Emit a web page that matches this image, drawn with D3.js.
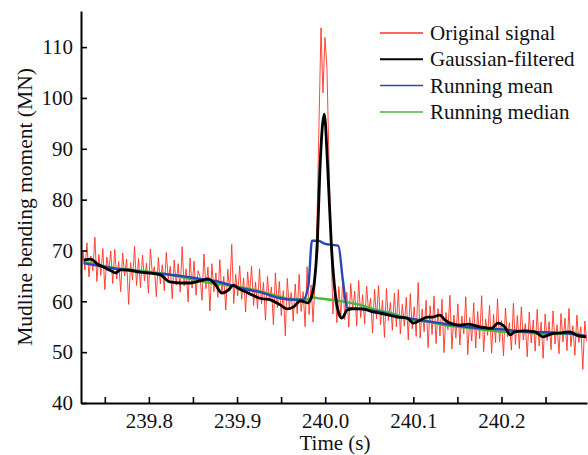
<!DOCTYPE html>
<html>
<head>
<meta charset="utf-8">
<script src="https://cdn.jsdelivr.net/npm/d3@7"></script>
<style>
  body { margin: 0; background: #fff; }
  text { font-family: "Liberation Serif", "Times New Roman", serif; fill: #111; }
</style>
</head>
<body>
<div id="chart"></div>
<script>
// original signal, uniformly sampled from t0 with step dt
const t0 = 239.723;
const dt = 0.00225;
const signal = [
  65.5, 69.8, 66.2, 71.5, 64.8, 68.9, 66.0, 72.6, 63.9, 69.2,
  65.1, 70.4, 62.3, 68.7, 66.1, 69.9, 63.5, 70.2, 64.4, 67.8,
  61.9, 69.5, 65.0, 68.3, 59.4, 67.6, 64.2, 70.8, 63.1, 68.4,
  62.7, 69.1, 64.0, 67.5, 61.6, 70.3, 65.2, 66.8, 60.9, 68.6,
  63.4, 67.2, 62.1, 69.6, 64.3, 66.9, 60.5, 68.1, 63.2, 67.4,
  61.8, 70.7, 63.0, 66.4, 59.9, 68.5, 62.6, 67.9, 61.2, 66.0,
  64.9, 60.2, 69.3, 62.5, 66.7, 58.1, 67.4, 61.9, 65.6, 60.8,
  68.2, 61.4, 64.9, 58.3, 66.3, 62.0, 71.2, 59.6, 65.3, 61.1,
  67.0, 60.4, 64.6, 57.9, 65.8, 61.3, 66.9, 59.2, 63.8, 58.6,
  66.4, 59.5, 63.7, 56.3, 64.9, 60.1, 62.8, 55.4, 65.6, 58.7,
  63.9, 57.2, 62.1, 53.2, 64.5, 58.8, 61.7, 56.1, 63.4, 57.6,
  65.3, 58.0, 61.9, 55.0, 66.8, 57.4, 63.2, 55.9,
  64.0, 76.0, 95.0, 113.8, 101.0, 111.9, 106.0, 88.0, 72.0, 57.5, 63.0,
  55.8, 62.9, 57.1, 64.2, 56.4, 61.8, 54.9, 63.5, 58.3, 62.0, 55.2,
  64.1, 56.8, 61.3, 55.5, 63.0, 57.9, 60.6, 53.8, 62.4, 56.6,
  63.1, 55.4, 60.2, 52.9, 62.5, 56.2, 59.8, 54.3, 61.6, 55.0,
  62.3, 53.6, 59.4, 55.1, 60.8, 52.4, 61.5, 54.6, 58.9, 53.1,
  63.7, 52.8, 58.5, 54.0, 60.2, 50.9, 59.1, 53.5, 61.0, 51.7,
  58.6, 53.2, 60.4, 49.9, 57.8, 54.4, 61.2, 50.6, 57.3, 52.8,
  59.5, 51.4, 57.1, 53.6, 60.9, 49.5, 56.8, 52.2, 59.7, 50.8,
  58.0, 52.6, 61.1, 50.1, 56.5, 53.3, 59.2, 49.8, 57.4, 51.9,
  60.5, 52.0, 56.2, 49.3, 58.7, 53.0, 55.8, 50.4, 59.6, 51.5,
  57.2, 50.7, 58.9, 52.4, 55.6, 49.1, 57.9, 51.8, 56.3, 50.2,
  58.4, 51.2, 55.9, 48.8, 57.5, 52.3, 56.0, 50.5, 58.1, 51.6,
  55.4, 49.7, 57.6, 52.0, 56.7, 50.3, 58.6, 51.1, 55.2, 49.4,
  57.3, 51.9, 55.0, 46.6, 56.1, 52.2
];

// gaussian-filtered curve
const gaussT = [239.726, 239.734, 239.742, 239.749, 239.757, 239.762, 239.768, 239.776, 239.787, 239.798,
  239.813, 239.824, 239.836, 239.847, 239.858, 239.867, 239.875, 239.883, 239.890, 239.896,
  239.901, 239.913, 239.926, 239.938, 239.949, 239.957, 239.964, 239.972, 239.980, 239.984,
  239.988, 239.991, 239.994, 239.999, 240.003, 240.007, 240.011, 240.015, 240.019, 240.025,
  240.032, 240.043, 240.054, 240.062, 240.082, 240.093, 240.100, 240.108, 240.116, 240.122,
  240.130, 240.136, 240.145, 240.153, 240.162, 240.178, 240.189, 240.196, 240.204, 240.210,
  240.215, 240.226, 240.238, 240.247, 240.257, 240.268, 240.277, 240.287, 240.296];
const gaussV = [68.1, 68.3, 67.3, 66.7, 66.0, 65.6, 66.2, 66.2, 65.8, 65.6,
  65.2, 63.8, 63.6, 63.6, 64.0, 64.4, 63.4, 61.6, 62.2, 63.2,
  62.6, 61.6, 60.6, 60.3, 59.3, 58.5, 58.9, 60.1, 59.7, 60.6,
  64.2, 71.1, 85.8, 96.8, 85.8, 71.1, 62.2, 57.9, 56.7, 58.3,
  58.5, 58.5, 57.9, 57.7, 56.9, 56.7, 55.7, 56.3, 56.9, 56.9,
  57.3, 56.3, 55.5, 55.3, 55.5, 54.9, 54.7, 55.7, 54.9, 53.4,
  54.0, 54.2, 54.0, 53.0, 53.6, 53.8, 54.0, 53.2, 53.0];

// running mean
const meanT = [239.726, 239.745, 239.779, 239.802, 239.836, 239.858, 239.875, 239.904, 239.926, 239.949,
  239.966, 239.975, 239.981, 239.985, 239.992, 240.000, 240.008, 240.015, 240.020, 240.025,
  240.040, 240.062, 240.085, 240.100, 240.130, 240.164, 240.198, 240.232, 240.266, 240.296];
const meanV = [67.5, 66.9, 66.0, 65.6, 65.0, 64.4, 64.0, 62.6, 61.8, 60.6,
  60.3, 60.3, 63.2, 71.9, 71.9, 71.3, 71.1, 70.9, 64.2, 58.7,
  58.5, 57.9, 56.9, 56.5, 55.7, 54.9, 54.5, 54.0, 53.8, 53.2];

// running median
const medT = [239.726, 239.745, 239.762, 239.779, 239.802, 239.819, 239.836, 239.853, 239.870, 239.887,
  239.904, 239.921, 239.938, 239.955, 239.972, 239.981, 239.986, 239.992, 240.006, 240.023,
  240.040, 240.054, 240.074, 240.100, 240.119, 240.136, 240.156, 240.176, 240.199, 240.221,
  240.243, 240.270, 240.283, 240.296];
const medV = [67.7, 67.1, 66.5, 66.2, 65.8, 65.4, 64.8, 64.2, 63.6, 63.2,
  62.8, 62.2, 61.4, 60.6, 60.3, 60.4, 60.8, 60.6, 60.3, 59.9,
  59.3, 58.5, 57.7, 56.3, 55.9, 55.3, 54.9, 54.5, 54.0, 54.0,
  53.6, 53.6, 53.8, 53.0];

const xTicks = [239.75, 239.8, 239.85, 239.9, 239.95, 240.0, 240.05, 240.1, 240.15, 240.2, 240.25];
const yTicks = [40, 50, 60, 70, 80, 90, 100, 110];
const seriesNames = ["Original signal", "Gaussian-filtered", "Running mean", "Running median"];
const seriesColors = ["#ff3322", "#000000", "#2a47b8", "#46b83a"];

const W = 588, H = 455;
const margin = {top: 11, right: 1, bottom: 52, left: 81};
const width = W - margin.left - margin.right;
const height = H - margin.top - margin.bottom;

const svg = d3.select("#chart").append("svg")
    .attr("width", W)
    .attr("height", H);

const g = svg.append("g")
    .attr("transform", "translate(" + margin.left + "," + margin.top + ")");

const x = d3.scaleLinear().domain([239.723, 240.297]).range([0, width]);
const y = d3.scaleLinear().domain([40, 117.1]).range([height, 0]);

const sigData = signal.map((v, i) => ({t: t0 + i * dt, v}));
const pair = (ts, vs) => ts.map((t, i) => ({t, v: vs[i]}));

const line = d3.line().x(d => x(d.t)).y(d => y(d.v));
const smooth = d3.line().x(d => x(d.t)).y(d => y(d.v)).curve(d3.curveMonotoneX);

g.append("path")
    .datum(sigData)
    .attr("fill", "none")
    .attr("stroke", seriesColors[0])
    .attr("stroke-width", 0.9)
    .attr("d", line);

g.append("path")
    .datum(pair(medT, medV))
    .attr("fill", "none")
    .attr("stroke", seriesColors[3])
    .attr("stroke-width", 2.4)
    .attr("d", line);

g.append("path")
    .datum(pair(meanT, meanV))
    .attr("fill", "none")
    .attr("stroke", seriesColors[2])
    .attr("stroke-width", 2.4)
    .attr("d", smooth);

g.append("path")
    .datum(pair(gaussT, gaussV))
    .attr("fill", "none")
    .attr("stroke", seriesColors[1])
    .attr("stroke-width", 2.8)
    .attr("d", smooth);

// axes, ticks pointing inward
const xAxis = d3.axisBottom(x)
    .tickValues(xTicks)
    .tickSizeInner(-6)
    .tickSizeOuter(0)
    .tickPadding(10)
    .tickFormat(d => (Math.round(d * 100) % 10 === 0) ? d3.format(".1f")(d) : "");

const yAxis = d3.axisLeft(y)
    .tickValues(yTicks)
    .tickSizeInner(-6)
    .tickSizeOuter(0)
    .tickPadding(8);

const gx = g.append("g")
    .attr("transform", "translate(0," + height + ")")
    .call(xAxis);
const gy = g.append("g").call(yAxis);

[gx, gy].forEach(a => {
    a.select(".domain").attr("stroke", "#000").attr("stroke-width", 2);
    a.selectAll(".tick line").attr("stroke", "#000").attr("stroke-width", 1.6);
    a.selectAll(".tick text")
        .style("font-family", "Liberation Serif, serif")
        .style("font-size", "21px")
        .attr("fill", "#111");
});

svg.append("text")
    .attr("transform", "translate(32,207) rotate(-90)")
    .attr("text-anchor", "middle")
    .style("font-size", "21.5px")
    .text("Mudline bending moment (MN)");

svg.append("text")
    .attr("x", 335)
    .attr("y", 450)
    .attr("text-anchor", "middle")
    .style("font-size", "21px")
    .text("Time (s)");

// legend
const legend = svg.append("g").attr("transform", "translate(380,33)");
seriesNames.forEach((name, i) => {
    const row = legend.append("g").attr("transform", "translate(0," + (i * 26.3) + ")");
    row.append("line")
        .attr("x1", 0).attr("x2", 43)
        .attr("y1", 0).attr("y2", 0)
        .attr("stroke", seriesColors[i])
        .attr("stroke-width", i === 1 ? 2 : 1.5);
    row.append("text")
        .attr("x", 50)
        .attr("y", 7)
        .style("font-size", "21px")
        .text(name);
});
</script>
</body>
</html>
